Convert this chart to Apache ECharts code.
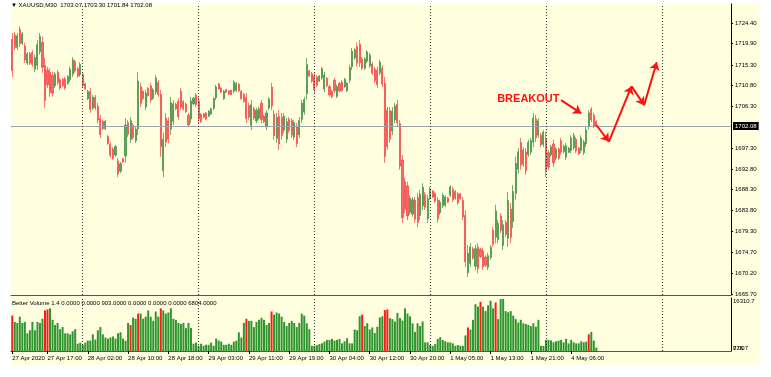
<!DOCTYPE html>
<html>
<head>
<meta charset="utf-8">
<script src="https://cdn.jsdelivr.net/npm/echarts@6/dist/echarts.min.js"></script>
<style>
html,body{margin:0;padding:0;background:#fff}
#main{width:771px;height:377px}
</style>
</head>
<body>
<div id="main"></div>
<script>
// trading days on the axis (M30 bars, 01:00-23:30 each day, first day from 10:00)
var days = ['27 Apr', '28 Apr', '29 Apr', '30 Apr', '1 May', '4 May', '5 May'];
var firstBarMin = 600;
var slots = 286; // bars incl. empty chart shift on the right

// [open, close, low, high]
var candles = [
[1720.8,1714.1,1712.7,1722.2],[1721.8,1719.1,1718.5,1722.4],[1719.1,1721.6,1718.5,1722.2],[1723.0,1719.9,1719.2,1723.7],
[1720.0,1722.0,1719.6,1722.4],[1719.4,1716.4,1715.7,1720.1],[1715.7,1717.7,1715.3,1718.1],[1717.7,1715.7,1715.3,1718.1],
[1718.0,1715.4,1714.9,1718.5],[1714.4,1716.9,1713.8,1717.5],[1715.2,1719.7,1714.2,1720.7],[1718.2,1721.5,1717.5,1722.2],
[1720.2,1714.8,1713.6,1721.4],[1715.2,1707.6,1706.0,1716.8],[1714.2,1711.0,1710.3,1714.9],[1713.7,1709.3,1708.4,1714.6],
[1713.0,1709.2,1708.4,1713.8],[1710.8,1713.3,1710.3,1713.8],[1713.7,1711.5,1711.0,1714.2],[1712.1,1710.3,1709.9,1712.5],
[1712.2,1710.8,1710.5,1712.5],[1712.3,1710.3,1709.9,1712.7],[1711.3,1712.8,1711.0,1713.1],[1712.1,1714.4,1711.6,1714.9],
[1713.3,1716.4,1712.7,1717.0],[1716.0,1714.0,1713.6,1716.4],[1714.5,1712.9,1712.5,1714.9],[1713.2,1715.4,1712.7,1715.9],
[1713.3,1710.8,1710.3,1713.8],[1711.2,1710.1,1709.9,1711.4],[1708.0,1709.6,1707.7,1709.9],[1709.5,1705.7,1704.9,1710.3],
[1706.0,1708.3,1705.5,1708.8],[1708.3,1706.0,1705.5,1708.8],[1706.4,1703.4,1702.7,1707.1],[1703.7,1700.2,1699.5,1704.5],
[1703.1,1701.5,1701.2,1703.4],[1701.5,1703.1,1701.2,1703.4],[1699.8,1698.3,1698.0,1700.1],[1698.1,1695.7,1695.2,1698.6],
[1697.1,1695.1,1694.7,1697.5],[1695.8,1697.6,1695.4,1698.0],[1694.5,1691.7,1691.0,1695.2],[1692.3,1693.9,1691.9,1694.3],
[1695.0,1694.3,1694.1,1695.2],[1695.6,1702.3,1694.1,1703.8],[1702.8,1700.3,1699.7,1703.4],[1699.2,1703.2,1698.4,1704.0],
[1702.2,1699.6,1699.1,1702.7],[1698.9,1701.4,1698.4,1701.9],[1701.5,1711.8,1700.1,1713.8],[1710.6,1707.0,1706.2,1711.4],
[1709.6,1708.0,1707.7,1709.9],[1706.2,1709.2,1705.5,1709.9],[1710.2,1708.7,1708.4,1710.5],[1710.8,1707.7,1707.1,1711.4],
[1708.1,1709.9,1707.7,1710.3],[1709.4,1712.5,1708.8,1713.1],[1711.5,1708.9,1708.4,1712.0],[1708.9,1697.6,1695.4,1709.9],
[1692.4,1699.2,1691.0,1700.6],[1703.8,1698.6,1697.5,1704.9],[1703.2,1699.2,1698.4,1704.0],[1701.4,1707.1,1700.1,1708.4],
[1703.1,1706.9,1702.3,1707.7],[1706.8,1705.8,1705.5,1707.1],[1707.4,1704.1,1703.4,1708.1],[1709.6,1706.2,1705.5,1710.3],
[1707.4,1705.8,1705.5,1707.7],[1706.8,1705.2,1704.9,1707.1],[1704.4,1702.3,1701.9,1704.9],[1703.6,1707.5,1702.7,1708.4],
[1706.9,1708.1,1706.6,1708.4],[1708.8,1706.7,1706.2,1709.2],[1707.5,1703.6,1702.7,1708.4],[1704.6,1703.0,1702.7,1704.9],
[1704.7,1704.0,1703.8,1704.9],[1704.9,1703.6,1703.4,1705.1],[1704.2,1705.3,1704.0,1705.5],[1704.7,1705.8,1704.5,1706.0],
[1705.9,1708.0,1705.5,1708.4],[1708.2,1710.5,1707.7,1711.0],[1711.2,1710.1,1709.9,1711.4],[1710.3,1709.4,1709.2,1710.5],
[1708.0,1709.6,1707.7,1709.9],[1710.0,1709.4,1709.2,1710.1],[1709.7,1709.0,1708.8,1709.9],[1709.8,1708.9,1708.8,1709.9],
[1709.6,1711.6,1709.2,1712.0],[1709.8,1711.3,1709.4,1711.6],[1711.1,1709.7,1709.4,1711.4],[1709.6,1708.0,1707.7,1709.9],
[1708.9,1707.4,1707.1,1709.2],[1708.2,1703.7,1702.7,1709.2],[1706.5,1704.0,1703.4,1707.1],[1702.2,1706.7,1701.2,1707.7],
[1705.8,1703.8,1703.4,1706.2],[1703.2,1705.5,1702.7,1706.0],[1703.8,1705.8,1703.4,1706.2],[1707.0,1703.5,1702.7,1707.7],
[1704.2,1703.0,1702.7,1704.5],[1701.9,1704.9,1701.2,1705.5],[1706.0,1707.9,1705.5,1708.4],[1710.5,1706.4,1705.5,1711.4],
[1704.6,1700.0,1699.1,1705.5],[1699.4,1703.9,1698.4,1704.9],[1704.2,1698.2,1696.9,1705.5],[1704.0,1700.0,1699.1,1704.9],
[1701.2,1704.2,1700.6,1704.9],[1699.2,1703.0,1698.4,1703.8],[1703.5,1701.1,1700.6,1704.0],[1703.2,1700.1,1699.5,1703.8],
[1699.7,1702.8,1699.1,1703.4],[1701.9,1698.3,1697.5,1702.7],[1700.2,1703.3,1699.5,1704.0],[1703.5,1707.0,1702.7,1707.7],
[1705.1,1707.8,1704.5,1708.4],[1709.1,1715.4,1707.7,1716.8],[1714.0,1712.9,1712.7,1714.2],[1713.4,1711.8,1711.4,1713.8],
[1712.9,1709.9,1709.2,1713.6],[1712.7,1710.9,1710.5,1713.1],[1711.8,1712.9,1711.6,1713.1],[1712.5,1714.5,1712.0,1714.9],
[1710.1,1713.1,1709.4,1713.8],[1712.4,1710.8,1710.5,1712.7],[1710.6,1708.8,1708.4,1711.0],[1709.6,1708.4,1708.1,1709.9],
[1712.0,1709.7,1709.2,1712.5],[1708.5,1710.6,1708.1,1711.0],[1711.3,1709.7,1709.4,1711.6],[1711.6,1709.8,1709.4,1712.0],
[1710.6,1712.2,1710.3,1712.5],[1709.7,1711.3,1709.4,1711.6],[1712.0,1714.7,1711.4,1715.3],[1714.9,1718.3,1714.2,1719.0],
[1716.8,1718.6,1716.4,1719.0],[1719.3,1715.7,1714.9,1720.1],[1719.8,1715.8,1714.9,1720.7],[1716.6,1714.6,1714.2,1717.0],
[1714.6,1716.6,1714.2,1717.0],[1716.1,1718.1,1715.7,1718.5],[1715.1,1717.4,1714.6,1717.9],[1715.5,1713.5,1713.1,1715.9],
[1714.4,1711.9,1711.4,1714.9],[1714.2,1711.0,1710.3,1714.9],[1713.6,1715.9,1713.1,1716.4],[1714.6,1711.2,1710.5,1715.3],
[1711.3,1695.5,1694.1,1712.7],[1705.5,1697.6,1696.9,1706.2],[1705.4,1699.2,1698.4,1706.2],[1701.0,1705.3,1700.1,1706.2],
[1703.4,1706.4,1702.7,1707.1],[1706.8,1702.8,1701.9,1707.7],[1702.6,1693.4,1692.6,1703.4],[1694.7,1682.2,1681.1,1695.8],
[1690.0,1684.0,1683.2,1690.8],[1689.1,1682.6,1681.7,1690.0],[1683.4,1686.5,1682.8,1687.1],[1683.0,1686.1,1682.4,1686.7],
[1686.0,1681.9,1681.1,1686.7],[1686.6,1681.2,1680.2,1687.6],[1682.7,1687.3,1681.7,1688.2],[1684.8,1688.8,1683.9,1689.7],
[1687.2,1684.5,1683.9,1687.8],[1682.0,1686.3,1681.1,1687.1],[1686.5,1688.5,1686.1,1688.9],[1688.0,1686.7,1686.5,1688.2],
[1687.4,1685.8,1685.4,1687.8],[1686.0,1681.9,1681.1,1686.7],[1683.3,1685.6,1682.8,1686.1],[1684.8,1687.1,1684.3,1687.6],
[1684.9,1686.7,1684.5,1687.1],[1686.5,1685.6,1685.4,1686.7],[1687.1,1688.9,1686.7,1689.3],[1688.4,1686.1,1685.6,1688.9],
[1687.9,1686.4,1686.1,1688.2],[1687.4,1685.4,1685.0,1687.8],[1687.4,1686.3,1686.1,1687.6],[1686.0,1682.4,1681.7,1686.7],
[1682.7,1672.7,1671.5,1683.9],[1670.3,1674.5,1669.4,1676.3],[1672.3,1675.9,1671.5,1676.7],[1675.5,1673.5,1673.1,1675.9],
[1671.7,1675.5,1670.9,1676.3],[1675.8,1671.2,1670.2,1676.7],[1675.4,1673.8,1673.5,1675.7],[1675.0,1671.6,1670.9,1675.7],
[1673.7,1671.9,1671.5,1674.1],[1671.5,1674.0,1670.9,1674.6],[1673.6,1675.8,1673.1,1676.3],[1679.5,1676.5,1675.9,1680.2],
[1678.0,1683.7,1676.7,1685.0],[1677.5,1681.0,1676.7,1681.7],[1682.6,1679.5,1678.9,1683.2],[1676.2,1680.7,1675.2,1681.7],
[1681.2,1678.6,1678.0,1681.7],[1677.7,1686.0,1675.9,1687.8],[1684.1,1678.0,1676.7,1685.4],[1681.4,1687.9,1680.0,1689.3],
[1687.5,1694.0,1686.1,1695.4],[1692.7,1696.5,1691.9,1697.3],[1698.5,1693.6,1692.6,1699.5],[1696.9,1693.8,1693.2,1697.5],
[1696.4,1692.4,1691.5,1697.3],[1695.9,1698.5,1695.4,1699.1],[1696.4,1698.9,1695.8,1699.5],[1698.6,1703.8,1697.5,1704.9],
[1703.6,1699.5,1698.6,1704.5],[1700.1,1703.2,1699.5,1703.8],[1700.1,1698.0,1697.5,1700.6],[1698.1,1700.7,1697.5,1701.2],
[1699.3,1692.5,1691.0,1700.8],[1696.3,1693.2,1692.6,1696.9],[1695.8,1697.6,1695.4,1698.0],[1698.2,1694.1,1693.2,1699.1],
[1695.1,1697.1,1694.7,1697.5],[1697.1,1695.1,1694.7,1697.5],[1698.9,1696.4,1695.8,1699.5],[1696.5,1697.7,1696.2,1698.0],
[1695.3,1697.8,1694.7,1698.4],[1696.4,1697.3,1696.2,1697.5],[1696.8,1699.5,1696.2,1700.1],[1697.4,1700.0,1696.9,1700.6],
[1699.2,1696.7,1696.2,1699.7],[1697.3,1696.0,1695.8,1697.5],[1696.8,1699.5,1696.2,1700.1],[1696.3,1698.6,1695.8,1699.1],
[1698.2,1701.2,1697.5,1701.9],[1701.9,1704.9,1701.2,1705.5],[1705.7,1703.4,1702.9,1706.2],[1704.4,1702.1,1701.6,1704.9],
[1703.07,1702.08,1701.84,1703.30]
];

var volumes = [
10900,8960,8640,10560,8640,8960,5440,6400,8960,6400,
8960,8640,9920,12480,12800,13120,9600,8000,8640,6720,
7360,5440,5440,5120,6080,6720,2240,2560,1920,2560,
3200,3200,5120,3520,6400,7360,5120,4160,3840,4160,
4480,3840,5440,5760,3840,3200,8640,8000,10240,9920,
11520,11520,9920,10560,12480,10560,9280,12160,10560,13120,
12480,11520,11840,13120,9920,9600,8640,8320,8640,7040,
8640,7040,2240,2560,1600,2240,1600,1920,1920,2560,
1600,3840,3200,2880,1920,1920,2240,1920,2880,3200,
5760,4160,8640,9920,9280,9280,7360,8960,9600,10240,
9600,8000,8640,12160,11200,11840,11520,10560,8960,7680,
8640,9280,8640,7360,8640,11520,10880,8530,6720,1600,
1600,1810,2130,2350,2880,3410,3410,3730,3200,3410,
3730,2350,2990,3950,2350,2350,6610,6400,10670,11200,
7680,8530,6610,7250,5550,7470,10350,10670,12590,12800,
10130,9810,9070,11730,10130,9390,13120,11520,10670,8530,
5870,8530,7680,9070,2670,2670,1920,1600,2130,3730,
4270,3410,2990,2670,2670,2350,1600,1810,1600,1600,
4800,7250,6610,9600,14400,13650,15150,13650,12270,14080,
15470,13120,14930,9810,16000,16000,12270,11950,12270,10880,
9810,8750,9600,8530,8320,8000,7680,8530,7470,9600,
1600,1600,3410,3410,3200,2670,2990,3200,3410,2670,
3730,2350,3410,2670,2350,2350,2990,2670,2880,5120,
5870,3200,1070
];
// climax bars of the Better Volume indicator
var volRed = [0, 13, 14, 47, 50, 59, 93, 103, 139, 148, 149, 181, 186, 192, 229];

var priceTicks = [1665.70, 1670.20, 1674.70, 1679.30, 1683.80, 1688.30, 1692.80, 1697.30,
                  1706.30, 1710.80, 1715.30, 1719.90, 1724.40];
var lastPrice = 1702.08;
var volTop = 16310.7;
var volLevel = 776.7;

var xTicks = ['27 Apr 10:00', '27 Apr 17:00', '28 Apr 02:00', '28 Apr 10:00', '28 Apr 18:00',
              '29 Apr 03:00', '29 Apr 11:00', '29 Apr 19:00', '30 Apr 04:00', '30 Apr 12:00',
              '30 Apr 20:00', '1 May 05:00', '1 May 13:00', '1 May 21:00', '4 May 06:00'];
var xTickText = ['27 Apr 2020', '27 Apr 17:00', '28 Apr 02:00', '28 Apr 10:00', '28 Apr 18:00',
                 '29 Apr 03:00', '29 Apr 11:00', '29 Apr 19:00', '30 Apr 04:00', '30 Apr 12:00',
                 '30 Apr 20:00', '1 May 05:00', '1 May 13:00', '1 May 21:00', '4 May 06:00'];
var separators = ['28 Apr 01:00', '29 Apr 01:00', '30 Apr 01:00', '1 May 01:00', '4 May 01:00', '5 May 01:00'];

// hand drawn arrows: [bar index, price]
var zigzag = [[232, 1702.3], [237, 1698.7], [246, 1710.7], [251, 1706.6], [256, 1715.9]];
var breakoutArrow = [[218, 1707.7], [226, 1704.8]];
var breakoutText = [205, 1707.9];

function pad(n) { return (n < 10 ? '0' : '') + n; }
var cats = [];
days.forEach(function (d, k) {
    for (var m = (k === 0 ? firstBarMin : 60); m < 1440 && cats.length < slots; m += 30) {
        cats.push(d + ' ' + pad(Math.floor(m / 60)) + ':' + pad(m % 60));
    }
});

var font = 'Liberation Sans, Arial, sans-serif';
var red = '#ff1010';

var sepLines = separators.map(function (s) {
    return { xAxis: s, lineStyle: { color: '#333', type: [1, 2], width: 1 }, label: { show: false } };
});

var arrowLines = [];
for (var k = 0; k < zigzag.length - 1; k++) {
    arrowLines.push([{ coord: zigzag[k], symbol: 'none' }, { coord: zigzag[k + 1], symbol: 'arrow' }]);
}
arrowLines.push([{ coord: breakoutArrow[0], symbol: 'none' }, { coord: breakoutArrow[1], symbol: 'arrow' }]);
arrowLines.forEach(function (l) {
    l[0].lineStyle = { color: red, width: 2, type: 'solid' };
    l[0].label = { show: false };
});

var myChart = echarts.init(document.getElementById('main'));
var option = {
    animation: false,
    textStyle: { fontFamily: font },
    graphic: [{
        type: 'rect', z: -10, silent: true,
        shape: { x: 11, y: 3, width: 749, height: 362 },
        style: { fill: '#ffffe0' }
    }],
    title: [{
        text: '\u25BC XAUUSD,M30  1703.07 1703.30 1701.84 1702.08',
        left: 11, top: 2, padding: 0,
        textStyle: { fontSize: 6, fontWeight: 'normal', color: '#000', fontFamily: font }
    }, {
        text: 'Better Volume 1.4 0.0000 0.0000 903.0000 0.0000 0.0000 0.0000 6804.0000',
        left: 12, top: 300, padding: 0,
        textStyle: { fontSize: 6, fontWeight: 'normal', color: '#000', fontFamily: font }
    }],
    grid: [
        { left: 11, right: 40, top: 4, height: 291 },
        { left: 11, right: 40, top: 298, height: 53 }
    ],
    xAxis: [{
        type: 'category', gridIndex: 0, data: cats, boundaryGap: true,
        axisLine: { lineStyle: { color: '#555', width: 1 } },
        axisTick: { show: false }, axisLabel: { show: false }, splitLine: { show: false }
    }, {
        type: 'category', gridIndex: 1, data: cats, boundaryGap: true,
        axisLine: { lineStyle: { color: '#555', width: 1 } },
        axisTick: {
            show: true, alignWithLabel: true, length: 3,
            lineStyle: { color: '#000' },
            interval: function (i, v) { return xTicks.indexOf(v) >= 0; }
        },
        axisLabel: {
            interval: function (i, v) { return xTicks.indexOf(v) >= 0; },
            formatter: function (v) { return xTickText[xTicks.indexOf(v)]; },
            align: 'left', margin: 4, fontSize: 6, color: '#000', fontFamily: font
        },
        splitLine: { show: false }
    }, {
        type: 'category', gridIndex: 1, data: cats, position: 'top',
        axisLine: { lineStyle: { color: '#555', width: 1 } },
        axisTick: { show: false }, axisLabel: { show: false }, splitLine: { show: false }
    }],
    yAxis: [{
        type: 'value', gridIndex: 0, position: 'right', scale: true,
        min: 1665.48, max: 1728.50,
        axisLine: { show: true, lineStyle: { color: '#000', width: 1 } },
        axisTick: { show: true, length: 2, customValues: priceTicks, lineStyle: { color: '#000' } },
        axisLabel: {
            customValues: priceTicks, margin: 4, fontSize: 6, color: '#000', fontFamily: font,
            formatter: function (v) { return v.toFixed(2); }
        },
        splitLine: { show: false }
    }, {
        type: 'value', gridIndex: 1, position: 'right', min: 0, max: volTop,
        axisLine: { show: true, lineStyle: { color: '#000', width: 1 } },
        axisTick: { show: false },
        axisLabel: {
            customValues: [volTop], verticalAlign: 'top', margin: 2,
            fontSize: 6, color: '#000', fontFamily: font,
            formatter: function (v) { return String(v); }
        },
        splitLine: { show: false }
    }, {
        type: 'value', gridIndex: 1, position: 'right', min: 0, max: volTop,
        axisLine: { show: false }, axisTick: { show: false },
        axisLabel: {
            customValues: [volLevel], margin: 2, fontSize: 6, color: '#000', fontFamily: font,
            formatter: function (v) { return String(v); }
        },
        splitLine: { show: false }
    }, {
        type: 'value', gridIndex: 1, position: 'right', min: 0, max: volTop,
        axisLine: { show: false }, axisTick: { show: false },
        axisLabel: {
            customValues: [0], showMinLabel: true, verticalAlign: 'bottom', margin: 2,
            fontSize: 6, color: '#000', fontFamily: font,
            formatter: function () { return '0.00'; }
        },
        splitLine: { show: false }
    }],
    series: [{
        type: 'candlestick',
        xAxisIndex: 0, yAxisIndex: 0,
        data: candles,
        barWidth: 1.6,
        itemStyle: {
            color: '#5fa35f', color0: '#f76a6a',
            borderColor: '#3a8a3a', borderColor0: '#f23c3c', borderWidth: 0.7
        },
        markLine: {
            silent: true, symbol: 'none', animation: false,
            data: [{
                yAxis: lastPrice,
                lineStyle: { color: '#9aa3aa', width: 1, type: 'solid' },
                label: {
                    show: true, position: 'end', distance: 2,
                    formatter: '1702.08', color: '#fff', backgroundColor: '#000',
                    padding: [1, 2], fontSize: 6, fontFamily: font
                }
            }].concat(sepLines).concat(arrowLines),
            symbolSize: 8
        },
        markPoint: {
            silent: true, animation: false,
            data: [{
                coord: breakoutText, symbol: 'circle', symbolSize: 1,
                itemStyle: { color: 'rgba(0,0,0,0)' },
                label: {
                    show: true, position: 'inside', formatter: 'BREAKOUT',
                    color: red, fontWeight: 'bold', fontSize: 11, fontFamily: font
                }
            }]
        }
    }, {
        type: 'bar',
        xAxisIndex: 1, yAxisIndex: 1,
        barWidth: 2,
        data: volumes.map(function (v, i) {
            return { value: v, itemStyle: { color: volRed.indexOf(i) >= 0 ? '#ff1a1a' : '#2f962f' } };
        }),
        markLine: {
            silent: true, symbol: 'none', animation: false,
            data: sepLines
        }
    }]
};
myChart.setOption(option);
</script>
</body>
</html>
